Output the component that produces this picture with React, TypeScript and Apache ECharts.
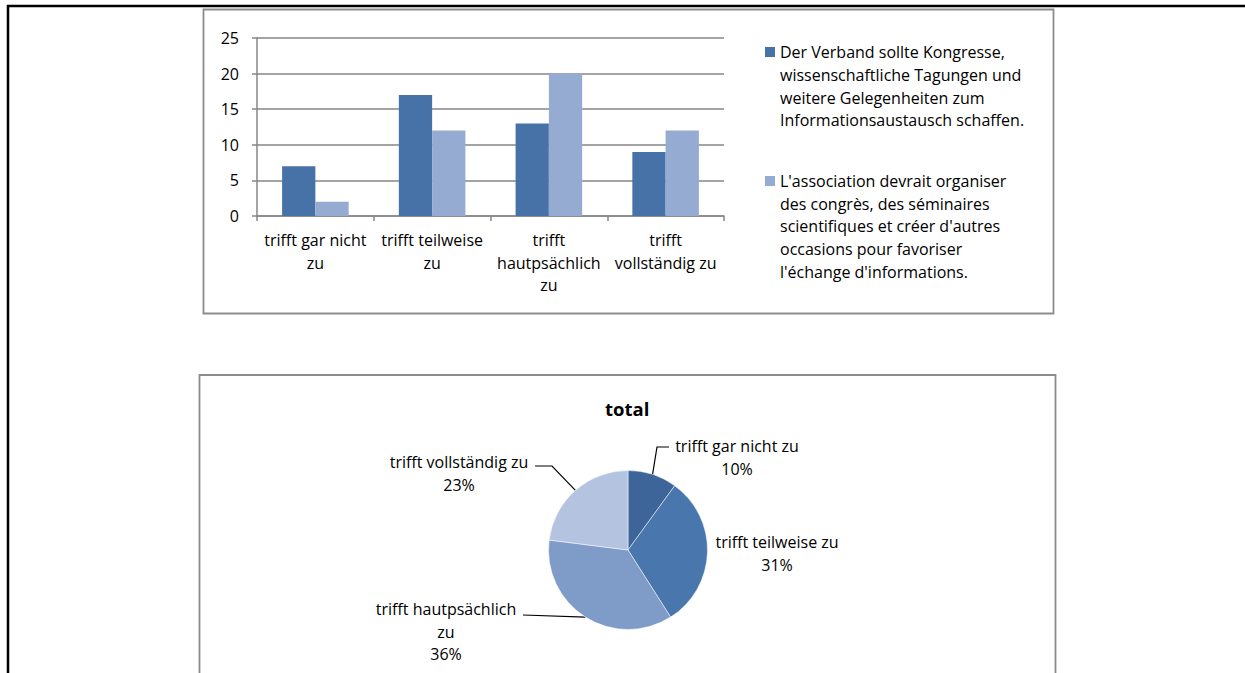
import React, { useEffect, useRef } from "react";
import * as echarts from "echarts";

// ---------- data ----------
const categories = [
  "trifft gar nicht zu",
  "trifft teilweise zu",
  "trifft hautpsächlich zu",
  "trifft vollständig zu",
];
const categoryLabels = [
  "trifft gar nicht\nzu",
  "trifft teilweise\nzu",
  "trifft\nhautpsächlich\nzu",
  "trifft\nvollständig zu",
];
const seriesDE =
  "Der Verband sollte Kongresse, wissenschaftliche Tagungen und weitere Gelegenheiten zum Informationsaustausch schaffen.";
const seriesFR =
  "L'association devrait organiser des congrès, des séminaires scientifiques et créer d'autres occasions pour favoriser l'échange d'informations.";
const legendLinesDE = [
  "Der Verband sollte Kongresse,",
  "wissenschaftliche Tagungen und",
  "weitere Gelegenheiten zum",
  "Informationsaustausch schaffen.",
];
const legendLinesFR = [
  "L'association devrait organiser",
  "des congrès, des séminaires",
  "scientifiques et créer d'autres",
  "occasions pour favoriser",
  "l'échange d'informations.",
];
const valuesDE = [7, 17, 13, 9];
const valuesFR = [2, 12, 20, 12];
const yMin = 0;
const yMax = 25;
const yInterval = 5;

const pieTitle = "total";
const pieValues = [10, 31, 36, 23];
const pieLabelTexts = [
  "trifft gar nicht zu",
  "trifft teilweise zu",
  "trifft hautpsächlich\nzu",
  "trifft vollständig zu",
];

// ---------- styles ----------
const FONT = "'Open Sans', 'Noto Sans', sans-serif";
const FS = 16;
const LH = 22.7;
const barColors = ["#4672A8", "#95ABD2"];
const pieColors = ["#3D6599", "#4876AD", "#7F9BC8", "#B4C3DF"];
const gridGray = "#868686";

// label placements (pixels) for pie data labels
const pieLabelPos = [
  { x: 737, y: 446 - LH / 2, line: [[657, 447], [669, 447]] },
  { x: 777, y: 542 - LH / 2, line: null },
  { x: 446, y: 609 - LH / 2, line: [[523, 615]] },
  { x: 459, y: 462 - LH / 2, line: [[552, 466], [535, 466]] },
];

export default function App() {
  const ref = useRef<HTMLDivElement>(null);
  useEffect(() => {
    if (!ref.current) return;
    const chart = echarts.init(ref.current, undefined, { renderer: "svg" });
    const h1 = 78.3;
    const h2 = 100.8;
    const option: any = {
      animation: false,
      backgroundColor: "#fff",
      textStyle: { fontFamily: FONT },
      title: {
        text: pieTitle,
        left: 605,
        top: 399,
        padding: 0,
        textStyle: { fontFamily: FONT, fontSize: 18.5, fontWeight: "bold", color: "#000" },
      },
      graphic: [
        // document frame
        { type: "line", shape: { x1: 7, y1: 6, x2: 1245, y2: 6 }, style: { stroke: "#000", lineWidth: 2.5 } },
        { type: "line", shape: { x1: 8, y1: 5, x2: 8, y2: 673 }, style: { stroke: "#000", lineWidth: 2.5 } },
        // chart boxes
        { type: "rect", shape: { x: 203.5, y: 9.5, width: 850, height: 304 }, style: { fill: "none", stroke: "#8c8c8c", lineWidth: 1.8 } },
        { type: "rect", shape: { x: 199.5, y: 375, width: 856, height: 320 }, style: { fill: "none", stroke: "#8c8c8c", lineWidth: 1.8 } },
      ],
      legend: [
        {
          data: [seriesDE],
          orient: "vertical",
          left: 765,
          top: 47 - (legendLinesDE.length * LH - h1) / 2,
          padding: 0,
          itemWidth: 10,
          itemHeight: h1,
          icon: `path://M0,0L10,0L10,10L0,10Z M0,${h1}L10,${h1}`,
          selectedMode: false,
          formatter: () => legendLinesDE.join("\n"),
          textStyle: { fontFamily: FONT, fontSize: FS, lineHeight: LH, color: "#000" },
        },
        {
          data: [seriesFR],
          orient: "vertical",
          left: 765,
          top: 176 - (legendLinesFR.length * LH - h2) / 2,
          padding: 0,
          itemWidth: 10,
          itemHeight: h2,
          icon: `path://M0,0L10,0L10,10L0,10Z M0,${h2}L10,${h2}`,
          selectedMode: false,
          formatter: () => legendLinesFR.join("\n"),
          textStyle: { fontFamily: FONT, fontSize: FS, lineHeight: LH, color: "#000" },
        },
      ],
      grid: {
        left: 257,
        top: 38,
        width: 467,
        height: 178,
        containLabel: false,
        outerBoundsMode: "none",
      },
      xAxis: {
        type: "category",
        data: categories,
        axisLine: { show: true, lineStyle: { color: gridGray, width: 1.5 } },
        axisTick: { show: true, length: 5, lineStyle: { color: gridGray, width: 1.5 } },
        axisLabel: {
          interval: 0,
          margin: 12.5,
          color: "#000",
          fontFamily: FONT,
          fontSize: FS,
          lineHeight: LH,
          formatter: (_v: string, i: number) => categoryLabels[i],
        },
      },
      yAxis: {
        type: "value",
        min: yMin,
        max: yMax,
        interval: yInterval,
        axisLine: { show: true, lineStyle: { color: gridGray, width: 1.5 } },
        axisTick: { show: true, length: 5, lineStyle: { color: gridGray, width: 1.5 } },
        splitLine: { show: true, lineStyle: { color: gridGray, width: 1.5 } },
        axisLabel: { margin: 18, color: "#000", fontFamily: FONT, fontSize: FS },
      },
      series: [
        {
          name: seriesDE,
          type: "bar",
          data: valuesDE,
          barGap: "0%",
          barCategoryGap: "43%",
          itemStyle: { color: barColors[0] },
        },
        {
          name: seriesFR,
          type: "bar",
          data: valuesFR,
          barGap: "0%",
          barCategoryGap: "43%",
          itemStyle: { color: barColors[1] },
        },
        {
          name: pieTitle,
          type: "pie",
          center: [628, 550],
          radius: 79.5,
          startAngle: 90,
          clockwise: true,
          data: categories.map((c, i) => ({
            name: c,
            value: pieValues[i],
            itemStyle: { color: pieColors[i] },
            labelLine: { show: pieLabelPos[i].line !== null },
          })),
          itemStyle: { borderColor: "#ffffff", borderWidth: 0.5 },
          label: {
            show: true,
            position: "outside",
            color: "#000",
            fontFamily: FONT,
            fontSize: FS,
            lineHeight: LH,
            align: "center",
            formatter: (p: any) => `${pieLabelTexts[p.dataIndex]}\n${Math.round(p.percent)}%`,
          },
          labelLine: { show: true, lineStyle: { color: "#000", width: 1.2 } },
          labelLayout: (p: any) => {
            const pos = pieLabelPos[p.dataIndex];
            const out: any = { x: pos.x, y: pos.y, align: "center", verticalAlign: "top" };
            if (pos.line && p.labelLinePoints) {
              out.labelLinePoints = [p.labelLinePoints[0], ...pos.line];
            }
            return out;
          },
        },
      ],
    };
    chart.setOption(option);
    return () => chart.dispose();
  }, []);
  return (
    <div
      ref={ref}
      style={{ position: "fixed", left: 0, top: 0, width: 1245, height: 673, background: "#fff" }}
    />
  );
}
